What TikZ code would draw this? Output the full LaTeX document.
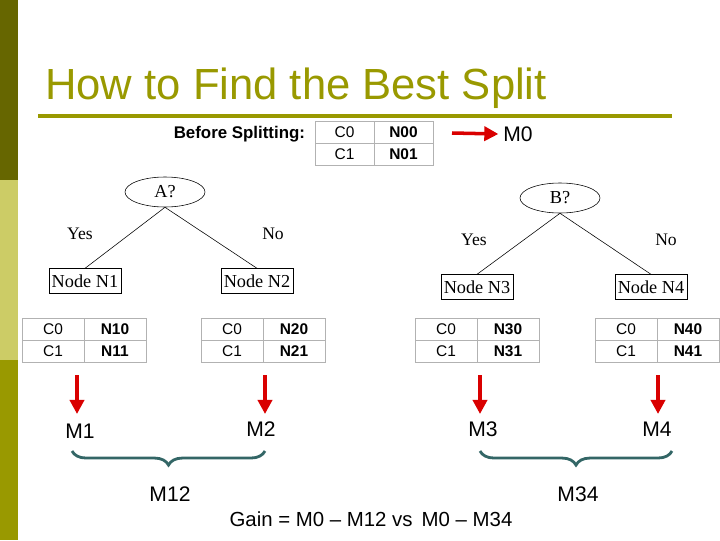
\documentclass[tikz,border=0pt]{standalone}
\usepackage{fontspec}
\setmainfont{Liberation Serif}
\setsansfont{Liberation Sans}
\usetikzlibrary{shapes.geometric,decorations.pathreplacing,arrows.meta}
\definecolor{olive}{HTML}{999900}
\definecolor{darkolive}{HTML}{666600}
\definecolor{lightolive}{HTML}{CCCC66}
\definecolor{braceteal}{HTML}{336666}
\tikzset{
	split/.style={draw, ellipse, minimum width=2cm, minimum height=0.75cm, inner sep=0pt, font=\fontsize{13}{15}\selectfont},
	leaf/.style={draw, inner sep=2pt, minimum height=0.62cm, minimum width=1.8cm, font=\fontsize{13}{15}\selectfont},
	answer/.style={font=\fontsize{12.5}{15}\selectfont},
	measure/.style={font=\sffamily\fontsize{15}{18}\selectfont},
	redarrow/.style={red!85!black, line width=2.5pt, -{Triangle[length=10pt, width=10pt]}},
	group/.style={braceteal, line width=2pt, decoration={brace, mirror, amplitude=10pt}, decorate},
	cell/.style={font=\sffamily\fontsize{11}{13}\selectfont},
	bcell/.style={font=\sffamily\bfseries\fontsize{11}{13}\selectfont}
}
% count table: name, left x, top y, width of halves, bold entries
\newcommand{\counttable}[6]{
	\draw[gray!60] (#2,#3) rectangle ({#2+2*#4},{#3+44});
	\draw[gray!60] (#2,{#3+22}) -- ({#2+2*#4},{#3+22});
	\draw[gray!60] ({#2+#4},#3) -- ({#2+#4},{#3+44});
	\node[cell] (#1c0) at ({#2+#4/2},{#3+11}) {C0};
	\node[cell] (#1c1) at ({#2+#4/2},{#3+33}) {C1};
	\node[bcell] (#1n0) at ({#2+1.5*#4},{#3+11}) {#5};
	\node[bcell] (#1n1) at ({#2+1.5*#4},{#3+33}) {#6};
	\coordinate (#1) at ({#2+#4},{#3+44});
}
\begin{document}
\begin{tikzpicture}[x=0.025cm, y=-0.025cm]
	\useasboundingbox (0,0) rectangle (720,540);
	\fill[darkolive] (0,0) rectangle (18,180);
	\fill[lightolive] (0,180) rectangle (18,360);
	\fill[olive] (0,360) rectangle (18,540);
	\node[anchor=base west, text=olive, font=\sffamily\fontsize{31}{36}\selectfont, inner sep=0pt] (title) at (45,99) {How to Find the Best Split};
	\draw[olive, line width=2.5pt] (38,116) -- (672,116);

	\node[anchor=east, font=\sffamily\bfseries\fontsize{12}{14}\selectfont] (before) at (310,134) {Before Splitting:};
	\counttable{t0}{315}{121}{59}{N00}{N01}
	\coordinate (m0s) at (452,133);
	\node[measure] (m0) at (518,134) {M0};
	\draw[redarrow] (m0s) -- (m0.west);

	% attribute A
	\node[split] (a) at (165,192) {A?};
	\node[leaf] (n1) at (85,281) {Node N1};
	\node[leaf] (n2) at (257,281) {Node N2};
	\draw (a.south) -- (n1.north);
	\draw (a.south) -- (n2.north);
	\node[answer] at (80,234) {Yes};
	\node[answer] at (273,234) {No};
	% attribute B
	\node[split] (b) at (560,198) {B?};
	\node[leaf] (n3) at (477,287) {Node N3};
	\node[leaf] (n4) at (651,287) {Node N4};
	\draw (b.south) -- (n3.north);
	\draw (b.south) -- (n4.north);
	\node[answer] at (474,240) {Yes};
	\node[answer] at (666,240) {No};

	\counttable{t1}{22}{318}{62}{N10}{N11}
	\counttable{t2}{201}{318}{62}{N20}{N21}
	\counttable{t3}{415}{318}{62}{N30}{N31}
	\counttable{t4}{595}{318}{62}{N40}{N41}

	\node[measure] (m1) at (80,431) {M1};
	\node[measure] (m2) at (261,429) {M2};
	\node[measure] (m3) at (483,429) {M3};
	\node[measure] (m4) at (657,429) {M4};
	\foreach \i/\x in {1/77, 2/265, 3/480, 4/658}{
		\coordinate (s\i) at (\x,375);
		\coordinate (e\i) at (\x,414);
		\draw[redarrow] (s\i) -- (e\i);
	}

	\coordinate (g1a) at (72,451);
	\coordinate (g1b) at (265,451);
	\coordinate (g2a) at (480,451);
	\coordinate (g2b) at (672,451);
	\draw[group] (g1a) -- (g1b);
	\draw[group] (g2a) -- (g2b);
	\node[measure] (m12) at (170,494) {M12};
	\node[measure] (m34) at (578,494) {M34};
	\node[measure, font=\sffamily\fontsize{14.5}{17}\selectfont] (gain) at (371,519) {Gain = M0 – M12 vs\, M0 – M34};
\end{tikzpicture}
\end{document}
